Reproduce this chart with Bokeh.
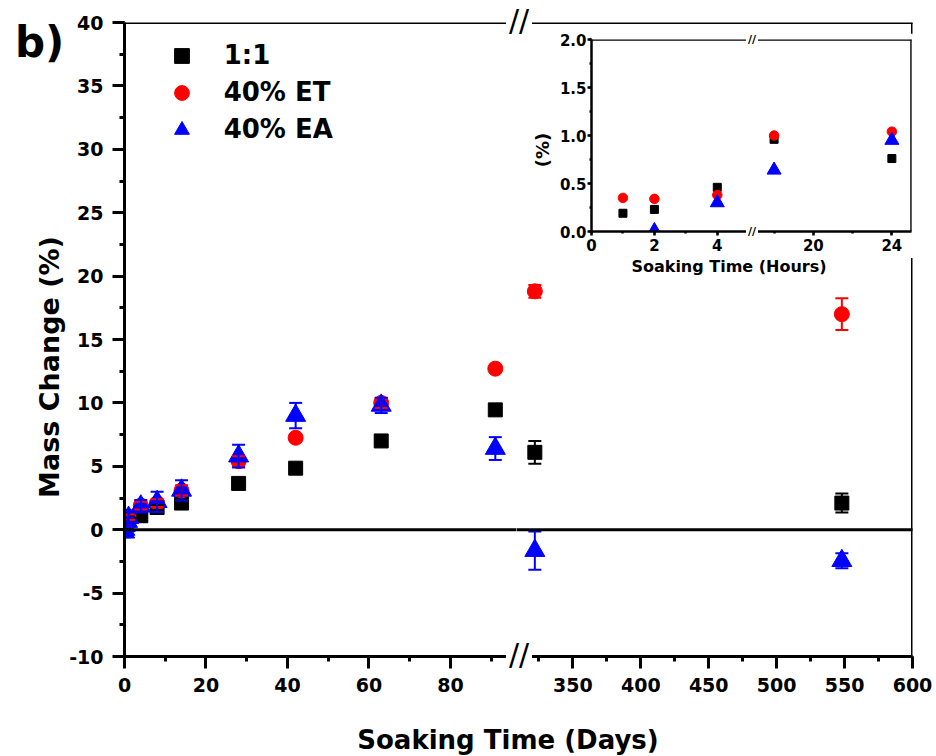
import numpy as np
from bokeh.plotting import figure
from bokeh.models import (Range1d, SingleIntervalTicker, Span, Legend, LegendItem,
                          Whisker, TeeHead, ColumnDataSource, Row, Column, Div,
                          NumeralTickFormatter, PrintfTickFormatter)
from bokeh.embed import file_html
from bokeh.resources import INLINE

FONT = "DejaVu Sans"

# ---------------- data ----------------
# short soaking times (hours) - inset and first points of the main plot
hours = [1, 2, 4, 18, 24]
r11_h = [0.19, 0.23, 0.46, 0.96, 0.76]
et_h = [0.35, 0.34, 0.38, 1.00, 1.04]
ea_h = [-0.20, 0.01, 0.30, 0.64, 0.95]
r11_h_err = [0.10, 0.10, 0.15, 0.20, 0.20]
et_h_err = [0.10, 0.10, 0.15, 0.20, 0.25]
ea_h_err = [0.40, 0.50, 0.30, 0.30, 0.40]

# long soaking times (days)
days = [4, 8, 14, 28, 42, 63, 91, 322, 548]
r11 = [1.10, 1.75, 2.10, 3.65, 4.85, 7.00, 9.45, 6.10, 2.10]
r11_err = [0.20, 0.20, 0.20, 0.20, 0.15, 0.15, 0.15, 0.90, 0.75]
et = [1.90, 2.10, 3.10, 5.40, 7.25, 10.00, 12.70, 18.80, 17.00]
et_err = [0.30, 0.30, 0.40, 0.40, 0.25, 0.40, 0.20, 0.50, 1.25]
ea = [1.85, 2.20, 3.10, 5.80, 9.00, 9.80, 6.40, -1.65, -2.45]
ea_err = [0.50, 0.80, 0.80, 0.90, 1.00, 0.60, 0.90, 1.50, 0.60]

labels = ["1:1", "40% ET", "40% EA"]
colors = ["#000000", "#FF0000", "#0000FF"]
markers = ["square", "circle", "triangle"]
main_sizes = [14, 15, 20]
inset_sizes = [8, 9.5, 14]

# main-plot x in days (hours converted to days)
x_main = np.array([h / 24.0 for h in hours] + days)
series_main = [
    (np.array(r11_h + r11), np.array(r11_h_err + r11_err)),
    (np.array(et_h + et), np.array(et_h_err + et_err)),
    (np.array(ea_h + ea), np.array(ea_h_err + ea_err)),
]
series_inset = [r11_h, et_h, ea_h]

yr_main = Range1d(-10, 40)
xr_left = Range1d(0, 96.2)
xr_right = Range1d(308.5, 600)
yr_inset = Range1d(0, 2)
xr_in_left = Range1d(0, 5.12)
xr_in_right = Range1d(16.9, 25)


def style_axis(ax, fs, tick_out, minor_out, lw, standoff):
    ax.axis_line_width = lw
    ax.axis_line_color = "black"
    ax.major_tick_in = 0
    ax.major_tick_out = tick_out
    ax.minor_tick_in = 0
    ax.minor_tick_out = minor_out
    ax.major_tick_line_width = lw
    ax.minor_tick_line_width = lw
    ax.major_tick_line_color = "black"
    ax.minor_tick_line_color = "black"
    ax.major_label_text_font = FONT
    ax.major_label_text_font_style = "bold"
    ax.major_label_text_font_size = fs
    ax.major_label_text_color = "black"
    ax.major_label_standoff = standoff


def base_fig(xr, yr, width, height, bl, br, bt, bb, show_y):
    p = figure(width=width, height=height, x_range=xr, y_range=yr,
               output_backend="svg", toolbar_location=None,
               min_border_left=bl, min_border_right=br,
               min_border_top=bt, min_border_bottom=bb,
               y_axis_location="left" if show_y else None)
    p.grid.grid_line_color = None
    p.outline_line_color = None
    p.background_fill_color = "white"
    p.border_fill_color = "white"
    return p


def main_fig(xr, width, bl, br, interval, show_y, left_side):
    p = base_fig(xr, yr_main, width, 756, bl, br, 22, 100, show_y)
    ax = p.xaxis[0]
    ax.ticker = SingleIntervalTicker(interval=interval, num_minor_ticks=2)
    style_axis(ax, "19px", 12, 5, 3, 9)
    if show_y:
        ay = p.yaxis[0]
        ay.ticker = SingleIntervalTicker(interval=5, num_minor_ticks=2)
        ay.formatter = PrintfTickFormatter(format="%d")
        style_axis(ay, "19px", 12, 5, 3, 9)
    p.add_layout(Span(location=0, dimension="width", line_color="black",
                      line_width=3, line_cap="square", level="annotation"))
    p.add_layout(Span(location=yr_main.end, dimension="width", line_color="black",
                      line_width=3, line_cap="square"))
    if not left_side:
        p.add_layout(Span(location=xr.end, dimension="height", line_color="black", line_width=3))
    mask = (x_main <= xr.end) if left_side else (x_main >= xr.start)
    rends = []
    for (yv, ev), col, mk, sz in zip(series_main, colors, markers, main_sizes):
        src = ColumnDataSource(dict(x=x_main[mask], y=yv[mask],
                                    lo=(yv - ev)[mask], hi=(yv + ev)[mask]))
        w = Whisker(base="x", lower="lo", upper="hi", source=src, level="glyph",
                    line_color=col, line_width=2,
                    upper_head=TeeHead(size=13, line_color=col, line_width=2),
                    lower_head=TeeHead(size=13, line_color=col, line_width=2))
        p.add_layout(w)
        r = p.scatter("x", "y", source=src, marker=mk, size=sz,
                      fill_color=col, line_color=col)
        rends.append(r)
    return p, rends


pl, rends = main_fig(xr_left, 516, 124, 0, 20, True, True)
pr, _ = main_fig(xr_right, 420, 0, 24, 50, False, False)

legend = Legend(items=[LegendItem(label=lab, renderers=[r]) for lab, r in zip(labels, rends)],
                location=(38.7, 508.5), padding=0, margin=0, spacing=0,
                glyph_width=37, glyph_height=37, label_height=37, label_standoff=24,
                label_text_font=FONT, label_text_font_style="bold",
                label_text_font_size="26px", label_text_color="black",
                border_line_color=None, background_fill_alpha=0)
pl.add_layout(legend)


# ---------------- inset ----------------
def inset_fig(xr, width, bl, br, interval, show_y, left_side):
    p = base_fig(xr, yr_inset, width, 225, bl, br, 6, 27, show_y)
    ax = p.xaxis[0]
    ax.ticker = SingleIntervalTicker(interval=interval, num_minor_ticks=2)
    style_axis(ax, "15px", 4, 2, 2.5, 3)
    if show_y:
        ay = p.yaxis[0]
        ay.ticker = SingleIntervalTicker(interval=0.5, num_minor_ticks=2)
        ay.formatter = NumeralTickFormatter(format="0.0")
        style_axis(ay, "15px", 4, 2, 2.5, 1)
    p.add_layout(Span(location=yr_inset.end, dimension="width", line_color="black",
                      line_width=2.5, line_cap="square"))
    if not left_side:
        p.add_layout(Span(location=xr.end, dimension="height", line_color="black", line_width=2.5))
    hx = np.array(hours)
    mask = (hx <= xr.end) if left_side else (hx >= xr.start)
    for yv, col, mk, sz in zip(series_inset, colors, markers, inset_sizes):
        yv = np.array(yv)
        p.scatter(hx[mask], yv[mask], marker=mk, size=sz, fill_color=col, line_color=col)
    return p


il = inset_fig(xr_in_left, 227, 66, 0, 2, True, True)
ir = inset_fig(xr_in_right, 162, 0, 3, 4, False, False)
inset_row = Row(children=[il, ir])


# ---------------- overlay texts (placed by margins in a column) ----------------
def text_div(text, width, height, size, weight="bold", align="center", bg=None, rotate=False):
    st = {"font-family": FONT, "font-weight": weight, "font-size": f"{size}px",
          "line-height": f"{height}px", "text-align": align, "white-space": "nowrap",
          "color": "black"}
    if bg:
        st["background-color"] = bg
    if rotate:
        st["transform"] = "rotate(-90deg)"
    return Div(text=text, width=width, height=height, styles=st)


y_title = text_div("Mass Change (%)", 300, 40, 27, rotate=True)
b_div = text_div("b)", 60, 46, 42, align="left")
brk_main_top = text_div("//", 26, 30, 30, weight="normal", bg="white")
brk_main_bot = text_div("//", 26, 30, 30, weight="normal", bg="white")
brk_in_top = text_div("//", 12, 13, 11, bg="white")
brk_in_bot = text_div("//", 12, 13, 11, bg="white")
inset_y_title = text_div("(%)", 50, 24, 18, rotate=True)
inset_title = text_div("Soaking Time (Hours)", 220, 20, 16)
main_title = text_div("Soaking Time (Days)", 400, 31, 26)

# (model, left, top, height)
placements = [
    (y_title, -100, 347, 40),
    (inset_row, 525, 33, 225),
    (b_div, 15, 20, 46),
    (brk_main_top, 506, 6, 30),
    (brk_in_top, 746, 33, 13),
    (inset_y_title, 518, 138, 24),
    (brk_in_bot, 746, 225, 13),
    (inset_title, 619, 257, 20),
    (brk_main_bot, 506, 640, 30),
    (main_title, 308, 725, 31),
]
prev_bottom = 756
for model, left, top, h in placements:
    model.margin = (top - prev_bottom, 0, 0, left)
    prev_bottom = top + h

main_row = Row(children=[pl, pr])
p = Column(children=[main_row] + [m for m, _, _, _ in placements])

open("out.html", "w").write(file_html(p, INLINE))
